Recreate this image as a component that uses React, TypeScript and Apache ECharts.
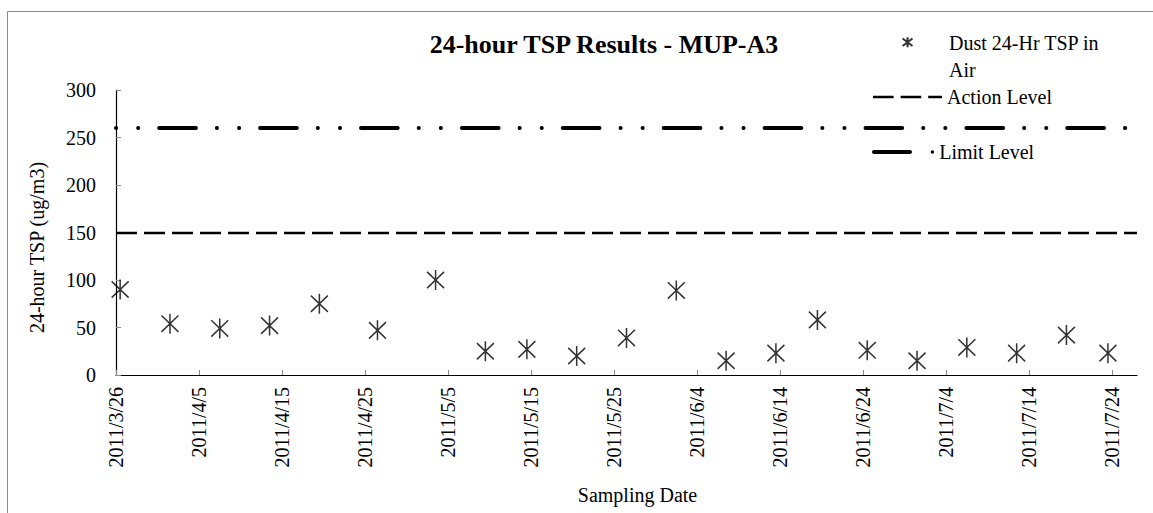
import React, { useEffect, useRef } from "react";
import * as echarts from "echarts";

// ---- data ----
const SAMPLE_DATES = [
  "2011/3/26", "2011/4/1", "2011/4/7", "2011/4/13", "2011/4/19", "2011/4/26",
  "2011/5/3", "2011/5/9", "2011/5/14", "2011/5/20", "2011/5/26", "2011/6/1",
  "2011/6/7", "2011/6/13", "2011/6/18", "2011/6/24", "2011/6/30", "2011/7/6",
  "2011/7/12", "2011/7/18", "2011/7/23",
];
const TSP_VALUES = [
  90, 54, 49, 52, 75, 47, 100, 25, 27, 20, 39, 89, 15, 23, 58, 26, 15, 29, 23, 42, 23,
];
const X_TICK_LABELS = [
  "2011/3/26", "2011/4/5", "2011/4/15", "2011/4/25", "2011/5/5", "2011/5/15",
  "2011/5/25", "2011/6/4", "2011/6/14", "2011/6/24", "2011/7/4", "2011/7/14", "2011/7/24",
];
const X_AXIS_START = "2011/3/26";
const X_AXIS_END = "2011/7/27";
const Y_MIN = 0;
const Y_MAX = 300;
const Y_INTERVAL = 50;
const ACTION_LEVEL = 150;
const LIMIT_LEVEL = 260;

const TITLE = "24-hour TSP Results - MUP-A3";
const SERIES_DUST = "Dust 24-Hr TSP in Air";
const SERIES_ACTION = "Action Level";
const SERIES_LIMIT = "Limit Level";
const X_NAME = "Sampling Date";
const Y_NAME = "24-hour TSP (ug/m3)";

// ---- helpers ----
const DAY_MS = 86400000;
function toUTC(s: string): number {
  const [y, m, d] = s.split("/").map(Number);
  return Date.UTC(y, m - 1, d);
}
function dayIndex(s: string): number {
  return Math.round((toUTC(s) - toUTC(X_AXIS_START)) / DAY_MS);
}

// thin bars joined into an asterisk (vertical + X), as a filled path
function barPoly(x1: number, y1: number, x2: number, y2: number, t: number): string {
  const dx = x2 - x1, dy = y2 - y1;
  const len = Math.hypot(dx, dy);
  const nx = (-dy / len) * (t / 2), ny = (dx / len) * (t / 2);
  const p = [
    [x1 + nx, y1 + ny], [x2 + nx, y2 + ny], [x2 - nx, y2 - ny], [x1 - nx, y1 - ny],
  ];
  return "M" + p.map((q) => q[0].toFixed(2) + "," + q[1].toFixed(2)).join("L") + "Z";
}
function starPath(w: number, h: number, t: number, diagInset: number, extra = ""): string {
  return (
    "path://" +
    barPoly(w / 2, 0, w / 2, h, t) +
    barPoly(0, diagInset, w, h - diagInset, t) +
    barPoly(0, h - diagInset, w, diagInset, t) +
    extra
  );
}

const FONT = "'Liberation Serif', 'Times New Roman', serif";

export default function App() {
  const ref = useRef<HTMLDivElement>(null);

  useEffect(() => {
    if (!ref.current) return;
    const chart = echarts.init(ref.current, undefined, { renderer: "svg" });

    const tickDays = X_TICK_LABELS.map(dayIndex);
    const tickLabelByDay: Record<number, string> = {};
    X_TICK_LABELS.forEach((l, i) => (tickLabelByDay[tickDays[i]] = l));

    // Excel date axis: a sample sits in the middle of its day
    const dustData = SAMPLE_DATES.map((d, i) => [dayIndex(d) + 0.5, TSP_VALUES[i]]);

    const plotStar = starPath(18, 20, 1.6, 1.8);
    // legend star sits in the top-left corner of a 42x38 icon box
    const legendStar = starPath(10, 10, 2.1, 1.2, "M41.99,37.99L42,38L41.99,38Z");

    const actionIcon =
      "path://M0,0h20.6v2.3h-20.6Z M27.6,0h20.6v2.3h-20.6Z M55.2,0h13.8v2.3h-13.8Z";
    const limitIcon =
      "path://M2,0h36a2,2 0 0 1 0,4h-36a2,2 0 0 1 0,-4Z M58.6,2a1.8,1.8 0 1 0 3.6,0a1.8,1.8 0 1 0 -3.6,0Z";

    const legendText = {
      fontFamily: FONT,
      fontSize: 20,
      color: "#000",
      lineHeight: 27,
    };

    chart.setOption({
      animation: false,
      backgroundColor: "#fff",
      title: {
        text: TITLE,
        left: 604,
        textAlign: "center",
        top: 31,
        padding: 0,
        textStyle: { fontFamily: FONT, fontSize: 26, fontWeight: "bold", color: "#000" },
      },
      graphic: [
        {
          type: "rect",
          silent: true,
          z: -10,
          shape: { x: 7.5, y: 11.5, width: 1300, height: 700 },
          style: { fill: "none", stroke: "#8a8a8a", lineWidth: 1 },
        },
      ],
      legend: [
        {
          data: [
            { name: SERIES_DUST, icon: legendStar, itemStyle: { color: "#000", borderWidth: 0 } },
          ],
          left: 902,
          top: 29,
          padding: 0,
          itemWidth: 42,
          itemHeight: 38,
          selectedMode: false,
          formatter: () => "Dust 24-Hr TSP in\nAir",
          textStyle: legendText,
        },
        {
          data: [
            { name: SERIES_ACTION, icon: actionIcon, itemStyle: { color: "#000", borderWidth: 0 } },
          ],
          left: 873,
          top: 83.5,
          padding: 0,
          itemWidth: 69,
          itemHeight: 2.3,
          selectedMode: false,
          textStyle: legendText,
        },
        {
          data: [
            { name: SERIES_LIMIT, icon: limitIcon, itemStyle: { color: "#000", borderWidth: 0 } },
          ],
          left: 872,
          top: 138.5,
          padding: 0,
          itemWidth: 62.2,
          itemHeight: 4,
          selectedMode: false,
          textStyle: legendText,
        },
      ],
      grid: { left: 116, right: 16, top: 90, bottom: 138, containLabel: false },
      xAxis: {
        type: "value",
        min: 0,
        max: dayIndex(X_AXIS_END),
        splitLine: { show: false },
        axisLine: { show: true, lineStyle: { color: "#000", width: 1.2 } },
        axisTick: {
          show: true,
          inside: true,
          length: 5,
          customValues: tickDays,
          lineStyle: { color: "#8a8a8a", width: 1 },
        },
        axisLabel: {
          customValues: tickDays,
          rotate: 90,
          margin: 12,
          fontFamily: FONT,
          fontSize: 20,
          color: "#000",
          formatter: (v: number) => tickLabelByDay[Math.round(v)] ?? "",
        },
        name: X_NAME,
        nameLocation: "middle",
        nameGap: 110,
        nameTextStyle: { fontFamily: FONT, fontSize: 20, color: "#000", padding: [0, 0, 0, 22] },
      },
      yAxis: {
        type: "value",
        min: Y_MIN,
        max: Y_MAX,
        interval: Y_INTERVAL,
        splitLine: { show: false },
        axisLine: { show: true, lineStyle: { color: "#000", width: 1.2 } },
        axisTick: { show: true, inside: true, length: 5, lineStyle: { color: "#8a8a8a", width: 1 } },
        axisLabel: { margin: 20, fontFamily: FONT, fontSize: 20, color: "#000" },
        name: Y_NAME,
        nameLocation: "middle",
        nameRotate: 90,
        nameGap: 69,
        nameTextStyle: { fontFamily: FONT, fontSize: 20, color: "#000", padding: [0, 30, 0, 0] },
      },
      series: [
        {
          name: SERIES_ACTION,
          type: "line",
          data: [],
          itemStyle: { color: "#000" },
          lineStyle: { color: "#000" },
          markLine: {
            silent: true,
            symbol: "none",
            label: { show: false },
            lineStyle: { color: "#000", width: 2.3, type: [21, 7] },
            data: [{ yAxis: ACTION_LEVEL }],
          },
        },
        {
          name: SERIES_LIMIT,
          type: "line",
          data: [],
          itemStyle: { color: "#000" },
          lineStyle: { color: "#000" },
          markLine: {
            silent: true,
            symbol: "none",
            label: { show: false },
            lineStyle: {
              color: "#000",
              width: 4,
              cap: "round",
              type: [0.1, 22, 0.1, 21, 36.7, 21],
            },
            data: [{ yAxis: LIMIT_LEVEL }],
          },
        },
        {
          name: SERIES_DUST,
          type: "scatter",
          data: dustData,
          symbol: plotStar,
          symbolSize: [18, 20],
          itemStyle: { color: "#000" },
          emphasis: { disabled: true },
          z: 5,
        },
      ],
    });

    return () => chart.dispose();
  }, []);

  return (
    <div
      ref={ref}
      style={{ position: "absolute", left: 0, top: 0, width: 1153, height: 513, background: "#fff" }}
    />
  );
}
